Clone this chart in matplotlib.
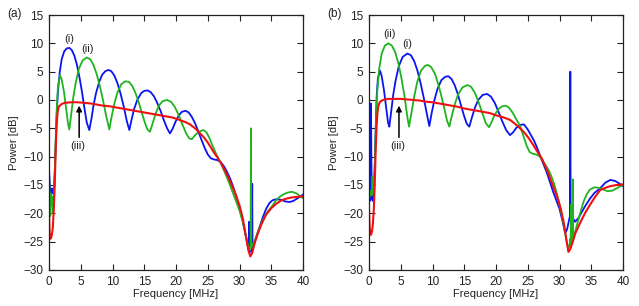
import matplotlib
matplotlib.use("Agg")
import matplotlib.pyplot as plt
import numpy as np

plt.rcParams['font.family'] = ['Liberation Sans', 'DejaVu Sans']

# ---------------- data: panel (a) ----------------
a_blue = [(0.0,-12.0),(0.15,-15.5),(0.3,-16.3),(0.45,-15.6),(0.6,-16.5),(0.75,-16.0),(0.9,-13),(1.05,-8),(1.2,-3),(1.4,1.5),(1.7,5.0),(2.0,7.2),(2.4,8.6),(2.8,9.1),(3.2,9.2),(3.6,8.8),(4.0,7.8),(4.4,6.2),(4.8,4.0),(5.2,1.4),(5.6,-1.6),(5.95,-4.0),(6.35,-5.3),(6.7,-3.2),(7.0,-1.0),(7.4,1.2),(7.9,3.2),(8.4,4.5),(8.9,5.1),(9.35,5.3),(9.8,5.1),(10.3,4.3),(10.8,2.9),(11.3,1.0),(11.8,-1.3),(12.25,-3.7),(12.65,-5.3),(13.0,-3.5),(13.4,-1.6),(13.9,0.0),(14.5,1.2),(15.0,1.6),(15.5,1.7),(16.0,1.4),(16.5,0.7),(17.0,-0.4),(17.6,-2.0),(18.1,-3.6),(18.6,-5.0),(19.05,-5.9),(19.5,-5.0),(19.9,-3.9),(20.4,-2.8),(20.9,-2.1),(21.5,-1.9),(22.0,-2.2),(22.5,-3.0),(23.0,-4.1),(23.5,-5.5),(24.0,-7.0),(24.5,-8.4),(25.0,-9.6),(25.5,-10.3),(26.0,-10.5),(26.5,-10.6),(27.0,-10.9),(27.5,-11.6),(28.0,-12.6),(28.5,-13.8),(29.0,-15.3),(29.5,-17.0),(30.0,-19.0),(30.5,-21.3),(31.0,-24.0),(31.3,-25.8),(31.45,-26.5),(31.5,-21.5),(31.55,-26.6),(31.8,-26.8),(31.95,-26.5),(32.0,-14.8),(32.05,-26.3),(32.3,-25.5),(32.7,-24.0),(33.2,-22.3),(33.7,-20.6),(34.2,-19.2),(34.7,-18.2),(35.2,-17.7),(35.8,-17.5),(36.5,-17.6),(37.2,-17.9),(37.9,-18.0),(38.5,-17.8),(39.2,-17.3),(40.0,-16.7)]

a_green = [(0.0,-12.5),(0.1,-17),(0.2,-20.5),(0.3,-16.5),(0.4,-18.5),(0.5,-17.0),(0.6,-20.0),(0.75,-18),(0.9,-13),(1.05,-7),(1.2,-2),(1.4,2.2),(1.73,4.4),(2.0,3.6),(2.35,1.5),(2.7,-1.5),(3.0,-4.2),(3.2,-5.2),(3.5,-2.5),(3.8,0.3),(4.2,3.0),(4.7,5.5),(5.3,7.0),(5.95,7.5),(6.5,7.2),(7.0,6.2),(7.5,4.6),(8.0,2.5),(8.5,0.0),(9.0,-2.8),(9.5,-5.2),(9.85,-3.0),(10.3,-0.6),(10.8,1.4),(11.4,2.8),(12.0,3.3),(12.6,3.2),(13.1,2.5),(13.6,1.3),(14.1,-0.3),(14.6,-2.2),(15.1,-4.0),(15.5,-5.2),(15.9,-5.6),(16.3,-4.2),(16.8,-2.4),(17.3,-1.0),(17.9,-0.2),(18.6,0.0),(19.2,-0.3),(19.8,-1.2),(20.4,-2.6),(21.0,-4.3),(21.6,-5.9),(22.1,-6.8),(22.5,-6.9),(23.0,-6.2),(23.6,-5.6),(24.3,-5.3),(24.8,-5.7),(25.3,-6.8),(25.8,-8.2),(26.4,-9.7),(27.0,-11.0),(27.5,-12.3),(28.0,-13.6),(28.5,-15.0),(29.0,-16.5),(29.5,-18.0),(30.0,-19.5),(30.5,-21.5),(31.0,-24.0),(31.4,-25.8),(31.6,-26.3),(31.75,-26.2),(31.8,-5.0),(31.85,-26.0),(32.1,-25.5),(32.5,-24.5),(33.0,-23.0),(33.5,-21.6),(34.0,-20.5),(34.5,-19.6),(35.1,-18.8),(35.7,-17.8),(36.3,-17.1),(37.0,-16.6),(37.7,-16.3),(38.3,-16.2),(39.0,-16.5),(39.6,-17.0),(40.0,-17.3)]

a_red = [(0.0,-20.0),(0.1,-23.5),(0.2,-24.5),(0.3,-24.4),(0.45,-23.8),(0.6,-22.5),(0.75,-19.5),(0.9,-15),(1.05,-9),(1.2,-4.5),(1.35,-2.2),(1.5,-1.3),(1.7,-1.0),(2.0,-0.7),(2.5,-0.5),(3.5,-0.4),(4.5,-0.4),(5.5,-0.5),(6.5,-0.6),(7.5,-0.8),(8.5,-1.0),(9.5,-1.1),(10.5,-1.3),(11.5,-1.5),(12.5,-1.7),(13.5,-1.9),(14.5,-2.1),(15.5,-2.3),(16.5,-2.5),(17.5,-2.7),(18.5,-2.9),(19.5,-3.1),(20.5,-3.5),(21.5,-3.9),(22.2,-4.3),(23.0,-5.0),(23.8,-5.9),(24.4,-6.6),(25.0,-7.5),(25.5,-8.4),(26.0,-9.3),(26.5,-10.1),(27.0,-11.0),(27.5,-12.0),(28.0,-13.1),(28.5,-14.3),(29.0,-15.6),(29.5,-17.0),(30.0,-18.6),(30.5,-20.8),(31.0,-24.0),(31.4,-26.5),(31.7,-27.6),(32.0,-27.0),(32.4,-25.2),(32.9,-23.5),(33.5,-21.8),(34.2,-20.2),(35.0,-19.1),(35.8,-18.3),(36.6,-17.7),(37.4,-17.4),(38.2,-17.2),(39.0,-17.1),(40.0,-17.0)]

# ---------------- data: panel (b) ----------------
b_blue = [(0.0,-17.5),(0.15,-17.8),(0.25,-10),(0.31,-0.6),(0.37,-10),(0.45,-17.5),(0.6,-17.8),(0.75,-16.5),(0.9,-12),(1.05,-5),(1.2,0.5),(1.4,3.8),(1.73,5.2),(2.0,4.2),(2.35,1.8),(2.7,-1.3),(3.0,-4.0),(3.2,-4.7),(3.5,-2.0),(3.8,0.8),(4.2,3.5),(4.7,6.0),(5.3,7.6),(6.04,8.2),(6.6,7.9),(7.1,6.9),(7.6,5.3),(8.1,3.1),(8.6,0.5),(9.1,-2.4),(9.5,-4.6),(9.85,-2.4),(10.3,0.0),(10.8,2.0),(11.4,3.5),(12.0,4.1),(12.5,4.2),(13.0,3.7),(13.5,2.6),(14.0,1.0),(14.5,-1.0),(15.0,-2.9),(15.4,-4.2),(15.8,-4.7),(16.2,-3.1),(16.7,-1.3),(17.2,0.0),(17.9,0.9),(18.6,1.06),(19.2,0.6),(19.8,-0.5),(20.4,-2.1),(21.0,-3.8),(21.6,-5.3),(22.2,-6.2),(22.7,-5.7),(23.2,-4.9),(23.8,-4.4),(24.4,-4.3),(25.0,-5.2),(25.5,-6.2),(26.0,-7.2),(26.5,-8.5),(27.0,-10.0),(27.5,-11.4),(28.0,-12.8),(28.5,-14.5),(29.0,-16.2),(29.5,-17.7),(30.0,-19.2),(30.5,-21.5),(30.9,-23.5),(31.2,-22.8),(31.5,-21.2),(31.65,-20.5),(31.7,5.0),(31.75,-20.0),(32.0,-20.6),(32.45,-21.5),(33.0,-20.8),(33.5,-19.8),(34.0,-18.8),(34.8,-17.4),(35.5,-16.4),(36.4,-15.6),(37.2,-14.6),(38.0,-14.1),(38.8,-14.3),(39.5,-14.8),(40.0,-15.2)]

b_green = [(0.0,-16.5),(0.15,-17.0),(0.3,-16.0),(0.45,-16.8),(0.55,-13.5),(0.65,-16.5),(0.8,-14.5),(0.95,-10),(1.1,-4),(1.3,1.5),(1.6,5.5),(2.0,8.2),(2.5,9.6),(3.05,10.0),(3.6,9.6),(4.1,8.5),(4.6,6.6),(5.1,3.9),(5.6,0.6),(6.0,-2.7),(6.3,-4.7),(6.7,-2.2),(7.1,0.5),(7.6,3.2),(8.2,5.2),(8.8,6.0),(9.24,6.2),(9.8,5.8),(10.4,4.6),(10.9,2.8),(11.4,0.7),(11.9,-1.7),(12.3,-3.7),(12.65,-4.7),(13.0,-3.0),(13.5,-0.8),(14.0,0.9),(14.7,2.2),(15.5,2.65),(16.1,2.3),(16.7,1.2),(17.3,-0.5),(17.9,-2.5),(18.4,-4.1),(18.9,-4.8),(19.3,-3.9),(19.8,-2.6),(20.4,-1.6),(21.0,-1.1),(21.5,-1.0),(22.0,-1.3),(22.6,-2.2),(23.2,-3.4),(23.8,-4.6),(24.3,-6.3),(24.8,-8.0),(25.3,-9.2),(25.8,-9.5),(26.3,-9.6),(26.8,-9.9),(27.2,-10.4),(27.7,-11.3),(28.2,-12.2),(28.7,-13.4),(29.2,-15.0),(29.7,-17.0),(30.2,-19.5),(30.7,-22.3),(31.1,-24.8),(31.4,-26.1),(31.6,-25.8),(31.7,-24.5),(31.75,-26.0),(31.8,-18.5),(31.85,-25.5),(32.05,-25.0),(32.1,-14.0),(32.15,-24.5),(32.4,-23.5),(32.8,-21.8),(33.3,-19.8),(33.8,-17.9),(34.3,-16.6),(34.8,-15.8),(35.5,-15.4),(36.2,-15.5),(36.9,-15.8),(37.6,-16.1),(38.3,-16.0),(39.0,-15.6),(39.6,-15.2),(40.0,-15.0)]

b_red = [(0.0,-19.0),(0.1,-22.5),(0.2,-23.6),(0.3,-23.8),(0.45,-23.3),(0.6,-22.0),(0.75,-19.5),(0.9,-15),(1.05,-9),(1.2,-4.5),(1.35,-2.0),(1.5,-0.9),(1.75,-0.3),(2.2,0.0),(3.0,0.2),(4.0,0.2),(5.0,0.2),(6.0,0.1),(7.0,0.0),(8.0,-0.1),(9.0,-0.3),(10.0,-0.4),(11.0,-0.6),(12.0,-0.8),(13.0,-1.0),(14.0,-1.2),(15.0,-1.5),(16.0,-1.7),(17.0,-1.9),(18.0,-2.1),(19.0,-2.3),(20.0,-2.7),(21.0,-3.0),(22.2,-3.5),(23.0,-4.2),(23.8,-5.0),(24.5,-5.8),(25.2,-6.8),(25.9,-8.0),(26.5,-9.1),(27.2,-10.3),(27.8,-11.8),(28.3,-13.1),(28.7,-14.4),(29.2,-15.8),(29.7,-17.3),(30.2,-19.2),(30.7,-21.8),(31.1,-24.8),(31.4,-26.8),(31.7,-26.3),(32.0,-25.3),(32.5,-23.5),(33.2,-21.8),(34.0,-20.0),(34.8,-18.5),(35.6,-17.1),(36.4,-15.9),(37.2,-15.5),(38.0,-15.2),(39.0,-15.0),(40.0,-14.9)]

x_ticks = [0, 5, 10, 15, 20, 25, 30, 35, 40]
y_ticks = [-30, -25, -20, -15, -10, -5, 0, 5, 10, 15]
panel_labels = ["(a)", "(b)"]
# curve labels: (text, f, P)
a_labels = [("(i)", 3.2, 10.7), ("(ii)", 6.1, 9.0), ("(iii)", 4.6, -8.1)]
b_labels = [("(ii)", 3.15, 11.65), ("(i)", 6.04, 9.9), ("(iii)", 4.6, -8.1)]
arrow_x = [4.75, 4.72]

BLUE = "#0a14f0"
GREEN = "#1fb41f"
RED = "#f01010"
TXT = "#222222"

fig = plt.figure(figsize=(6.39, 3.06), dpi=100)
W, H = 639, 306
axA = fig.add_axes([49 / W, 1 - 270 / H, 254 / W, 255 / H])
axB = fig.add_axes([369 / W, 1 - 270 / H, 254 / W, 255 / H])

panels = [
    (axA, a_blue, a_green, a_red, a_labels, arrow_x[0], panel_labels[0], 7),
    (axB, b_blue, b_green, b_red, b_labels, arrow_x[1], panel_labels[1], 327),
]

for ax, blue, green, red, labels, ax_x, plabel, plx in panels:
    for series, col, lw in ((blue, BLUE, 1.3), (green, GREEN, 1.3), (red, RED, 1.5)):
        arr = np.array(series)
        ax.plot(arr[:, 0], arr[:, 1], color=col, lw=lw, solid_joinstyle='round')
    ax.set_xlim(0, 40)
    ax.set_ylim(-30, 15)
    ax.set_xticks(x_ticks)
    ax.set_yticks(y_ticks)
    ax.tick_params(direction='in', top=True, right=True, length=4, width=0.8,
                   labelsize=8.5, pad=4, labelcolor=TXT, color='#222222')
    for s in ax.spines.values():
        s.set_linewidth(0.9)
        s.set_color('#222222')
    ax.set_xlabel("Frequency [MHz]", fontsize=8, labelpad=1, color=TXT)
    ax.set_ylabel("Power [dB]", fontsize=8, labelpad=3, color=TXT)
    for txt, fx, py in labels:
        ax.text(fx, py, txt, fontsize=8, ha='center', va='center', color=TXT)
    ax.annotate("", xy=(ax_x, -1.0), xytext=(ax_x, -6.6),
                arrowprops=dict(arrowstyle='-|>', color='black', lw=1.1,
                                mutation_scale=8, shrinkA=0, shrinkB=0))
    fig.text(plx / W, 1 - 14 / H, plabel, fontsize=8.5, ha='left', va='center', color=TXT)

fig.savefig("out.png", dpi=100)
